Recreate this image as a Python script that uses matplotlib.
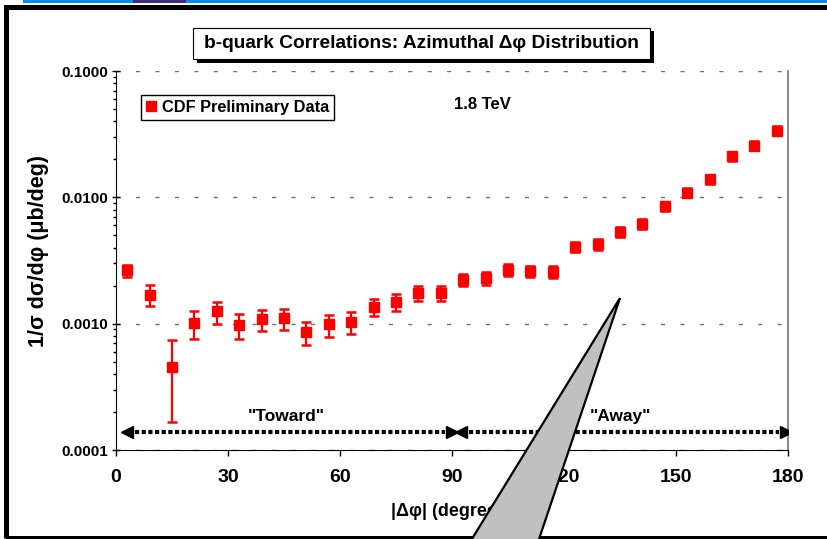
import matplotlib.pyplot as plt
import numpy as np
from matplotlib.patches import Rectangle, Polygon
from matplotlib.lines import Line2D

plt.rcParams['font.family'] = ['Liberation Sans', 'DejaVu Sans']
plt.rcParams['font.weight'] = 'bold'

# === Data (bin centres in degrees) ===
dphi = [3, 9, 15, 21, 27, 33, 39, 45, 51, 57, 63, 69, 75, 81, 87,
        93, 99, 105, 111, 117, 123, 129, 135, 141, 147, 153, 159, 165, 171, 177]
xsec = [0.00267, 0.00170, 0.00045, 0.00101, 0.00125, 0.00098, 0.00109, 0.00110,
        0.000865, 0.000995, 0.00104, 0.00136, 0.00148, 0.00175, 0.00175,
        0.00222, 0.00229, 0.00267, 0.00259, 0.00256, 0.00404, 0.00424,
        0.00531, 0.00611, 0.00853, 0.0109, 0.0139, 0.0211, 0.0257, 0.0338]
xsec_hi = [0.00291, 0.00201, 0.000746, 0.00127, 0.00149, 0.00120, 0.00129, 0.00130,
           0.00104, 0.00118, 0.00123, 0.00158, 0.00172, 0.00200, 0.00200,
           0.00247, 0.00255, 0.00296, 0.00287, 0.00284, 0.00445, 0.00466,
           0.00581, 0.00668, 0.00925, 0.0118, 0.0151, 0.0229, 0.0279, 0.0367]
xsec_lo = [0.00234, 0.00139, 0.000167, 0.00075, 0.00100, 0.000757, 0.00088, 0.00089,
           0.00068, 0.00079, 0.000825, 0.00114, 0.00127, 0.00150, 0.00150,
           0.00197, 0.00203, 0.00240, 0.00232, 0.00229, 0.00367, 0.00386,
           0.00485, 0.00559, 0.00786, 0.0100, 0.0128, 0.0194, 0.0236, 0.0311]
yticks = [0.0001, 0.001, 0.01, 0.1]
ytick_labels = ["0.0001", "0.0010", "0.0100", "0.1000"]
xticks = [0, 30, 60, 90, 120, 150, 180]

W, H = 828, 539
fig = plt.figure(figsize=(W / 100, H / 100), dpi=100)
ax = fig.add_axes([116 / W, 1 - 450 / H, 672 / W, 379 / H])

def fx(px):
    return px / W

def fy(py):
    return 1 - py / H

# === Data ===
y = np.array(xsec)
yerr = [y - np.array(xsec_lo), np.array(xsec_hi) - y]
ax.errorbar(dphi, y, yerr=yerr, fmt='s', color='#ff0000', ms=6.8, mec='#ff0000',
            elinewidth=1.6, capsize=3.5, capthick=1.8, zorder=3)

ax.set_yscale('log')
ax.set_ylim(0.0001, 0.1)
ax.set_xlim(0, 180)
ax.set_yticks(yticks)
ax.set_yticklabels(ytick_labels, fontsize=11, fontweight='bold')
ax.set_xticks(xticks)
ax.set_xticklabels([str(t) for t in xticks], fontsize=14, fontweight='bold')
ax.tick_params(axis='y', which='major', direction='inout', length=6, width=1, pad=3)
ax.tick_params(axis='y', which='minor', direction='out', length=2.5, width=1, labelleft=False)
ax.tick_params(axis='x', which='major', direction='out', length=4, width=1, pad=10)

ax.grid(axis='y', which='major', color='#707070', lw=1, ls=(0, (3, 11)))
ax.spines['top'].set_visible(False)
ax.spines['right'].set_color('#808080')
ax.spines['right'].set_linewidth(1.3)

ax.set_ylabel("1/σ dσ/dφ (μb/deg)", fontsize=15.5, fontweight='bold')
ax.yaxis.set_label_coords(-0.1, 0.525)
ax.set_xlabel("|Δφ| (degrees)", fontsize=13, fontweight='bold', labelpad=12)

# "Toward" / "Away" regions
arrow_y = 0.000138
for x0, x1, label in [(3, 90, '"Toward"'), (92.5, 179.5, '"Away"')]:
    ax.plot([x0 + 2, x1 - 2], [arrow_y, arrow_y], color='black', lw=3,
            ls=(0, (1, 0.6)), solid_capstyle='butt', zorder=4)
    ax.plot([x0], [arrow_y], marker='<', color='black', ms=9, zorder=4)
    ax.plot([x1], [arrow_y], marker='>', color='black', ms=9, zorder=4)
    ax.text((x0 + x1) / 2 - 1, 0.000185, label, ha='center', va='center',
            fontsize=12.5, fontweight='bold')

ax.text(0.545, 0.912, "1.8 TeV", transform=ax.transAxes, ha='center', va='center',
        fontsize=12, fontweight='bold')

handle = Line2D([], [], marker='s', color='#ff0000', ls='none', ms=7.5)
leg = ax.legend([handle], ["CDF Preliminary Data"], loc='upper left',
                bbox_to_anchor=(0.037, 0.937), borderaxespad=0, fancybox=False,
                edgecolor='black', framealpha=1, handlelength=0.6, handletextpad=0.4,
                borderpad=0.3, prop={'size': 11.8, 'weight': 'bold'})
leg.get_frame().set_linewidth(1)

# === Slide decorations ===
fig.add_artist(Rectangle((fx(23), fy(2.5)), fx(805), 2.5 / H, transform=fig.transFigure,
                         color='#0a8cf0', lw=0))
fig.add_artist(Rectangle((fx(133), fy(2.5)), fx(53), 2.5 / H, transform=fig.transFigure,
                         color='#3b2d78', lw=0))
fig.add_artist(Rectangle((fx(6.5), fy(537.5)), fx(900), 531 / H, transform=fig.transFigure,
                         fill=False, ec='black', lw=3.6))

# title box with shadow
fig.add_artist(Rectangle((fx(197), fy(62.5)), fx(457), 31.5 / H, transform=fig.transFigure,
                         color='black', lw=0))
fig.add_artist(Rectangle((fx(193), fy(59)), fx(457), 31.5 / H, transform=fig.transFigure,
                         fc='white', ec='black', lw=0.8))
fig.text(fx(421.5), fy(43.5), "b-quark Correlations: Azimuthal Δφ Distribution",
         ha='center', va='center', fontsize=13.8, fontweight='bold')

# callout wedge
wedge = Polygon([(fx(620), fy(298)), (fx(459), fy(560)), (fx(532), fy(560))],
                closed=True, transform=fig.transFigure, fc='#c0c0c0', ec='black',
                lw=1.6, zorder=10)
fig.add_artist(wedge)

fig.savefig("out.png", dpi=100)
